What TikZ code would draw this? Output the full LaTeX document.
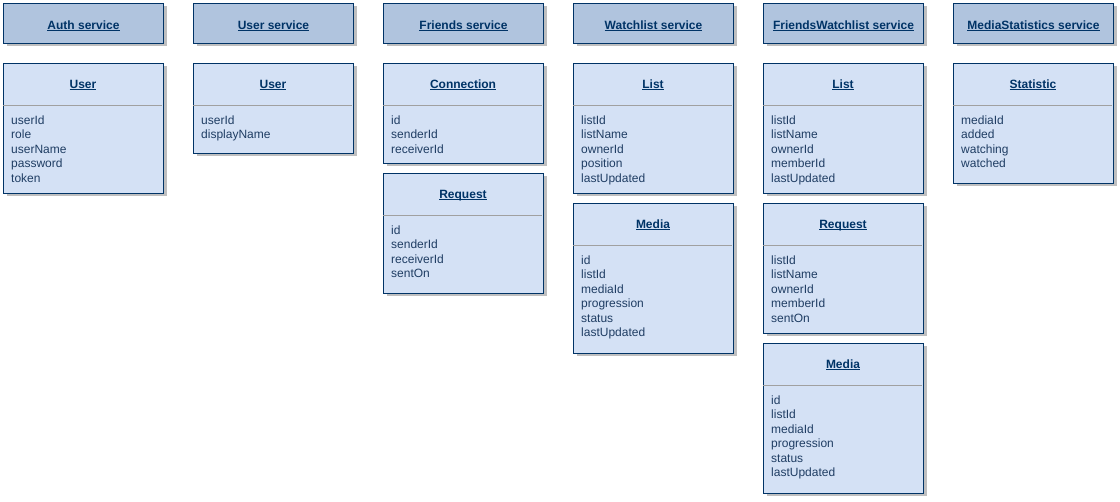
\documentclass[tikz,border=0pt]{standalone}
\usepackage{fontspec}
\setmainfont{Liberation Sans}
\usepackage{tikz}
\usetikzlibrary{shadows}
\usepackage{xcolor}
\definecolor{headerfill}{HTML}{B0C4DE}
\definecolor{entityfill}{HTML}{D4E1F5}
\definecolor{boxline}{HTML}{003366}
\definecolor{attrtext}{HTML}{1F3D63}
\definecolor{divline}{HTML}{A0A0A0}
\newcommand\ulined[1]{\setbox0\hbox{#1}\rlap{\rule[-1.6pt]{\wd0}{0.9pt}}\box0}
\tikzset{
  boxshadow/.style={drop shadow={shadow xshift=3pt, shadow yshift=-3pt, fill=black!25, opacity=1}},
  header/.style={rectangle, draw=boxline, line width=1pt, fill=headerfill, boxshadow, anchor=north west,
    minimum width=160pt, minimum height=40pt, inner sep=0pt, text=boxline, text height=11.6pt, text depth=0pt,
    font=\bfseries\fontsize{12pt}{14.5pt}\selectfont},
  entitybox/.style={rectangle, draw=boxline, line width=1pt, fill=entityfill, boxshadow, anchor=north west,
    minimum width=160pt, inner sep=0pt},
  entitytitle/.style={anchor=base, inner sep=0pt, text=boxline, font=\bfseries\fontsize{12pt}{14.5pt}\selectfont},
  divider/.style={draw=divline, line width=1pt},
  attr/.style={anchor=base west, inner sep=0pt, text=attrtext, font=\fontsize{12pt}{14.5pt}\selectfont}
}
\newcommand\entity[6]{
  \begin{scope}[shift={(#2,#3)}]
      \node[entitybox, minimum height=#4pt] (#1) at (0,0) {};
      \node[entitytitle] (#1title) at (80,25.6) {\ulined{#5}};
      \draw[divider] (0,42.5) -- (159,42.5);
      \foreach \a [count=\i] in {#6}
        \node[attr] (#1a\i) at (8,{47+14.5*\i}) {\a};
  \end{scope}
}

\begin{document}
\begin{tikzpicture}[x=1pt, y=-1pt]
    \useasboundingbox (0,0) rectangle (1120,502);

    \node[header] (authsrv) at (3,3) {\ulined{Auth service}};
    \node[header] (usersrv) at (193,3) {\ulined{User service}};
    \node[header] (friendsrv) at (383,3) {\ulined{Friends service}};
    \node[header] (watchsrv) at (573,3) {\ulined{Watchlist service}};
    \node[header] (fwatchsrv) at (763,3) {\ulined{FriendsWatchlist service}};
    \node[header] (statsrv) at (953,3) {\ulined{MediaStatistics service}};

    \entity{authuser}{3}{63}{130}{User}{userId, role, userName, password, token}
    \entity{useruser}{193}{63}{90}{User}{userId, displayName}
    \entity{friendconn}{383}{63}{100}{Connection}{id, senderId, receiverId}
    \entity{friendreq}{383}{173}{120}{Request}{id, senderId, receiverId, sentOn}
    \entity{watchlist}{573}{63}{130}{List}{listId, listName, ownerId, position, lastUpdated}
    \entity{watchmedia}{573}{203}{150}{Media}{id, listId, mediaId, progression, status, lastUpdated}
    \entity{fwlist}{763}{63}{130}{List}{listId, listName, ownerId, memberId, lastUpdated}
    \entity{fwreq}{763}{203}{130}{Request}{listId, listName, ownerId, memberId, sentOn}
    \entity{fwmedia}{763}{343}{150}{Media}{id, listId, mediaId, progression, status, lastUpdated}
    \entity{statstat}{953}{63}{120}{Statistic}{mediaId, added, watching, watched}
\end{tikzpicture}
\end{document}
